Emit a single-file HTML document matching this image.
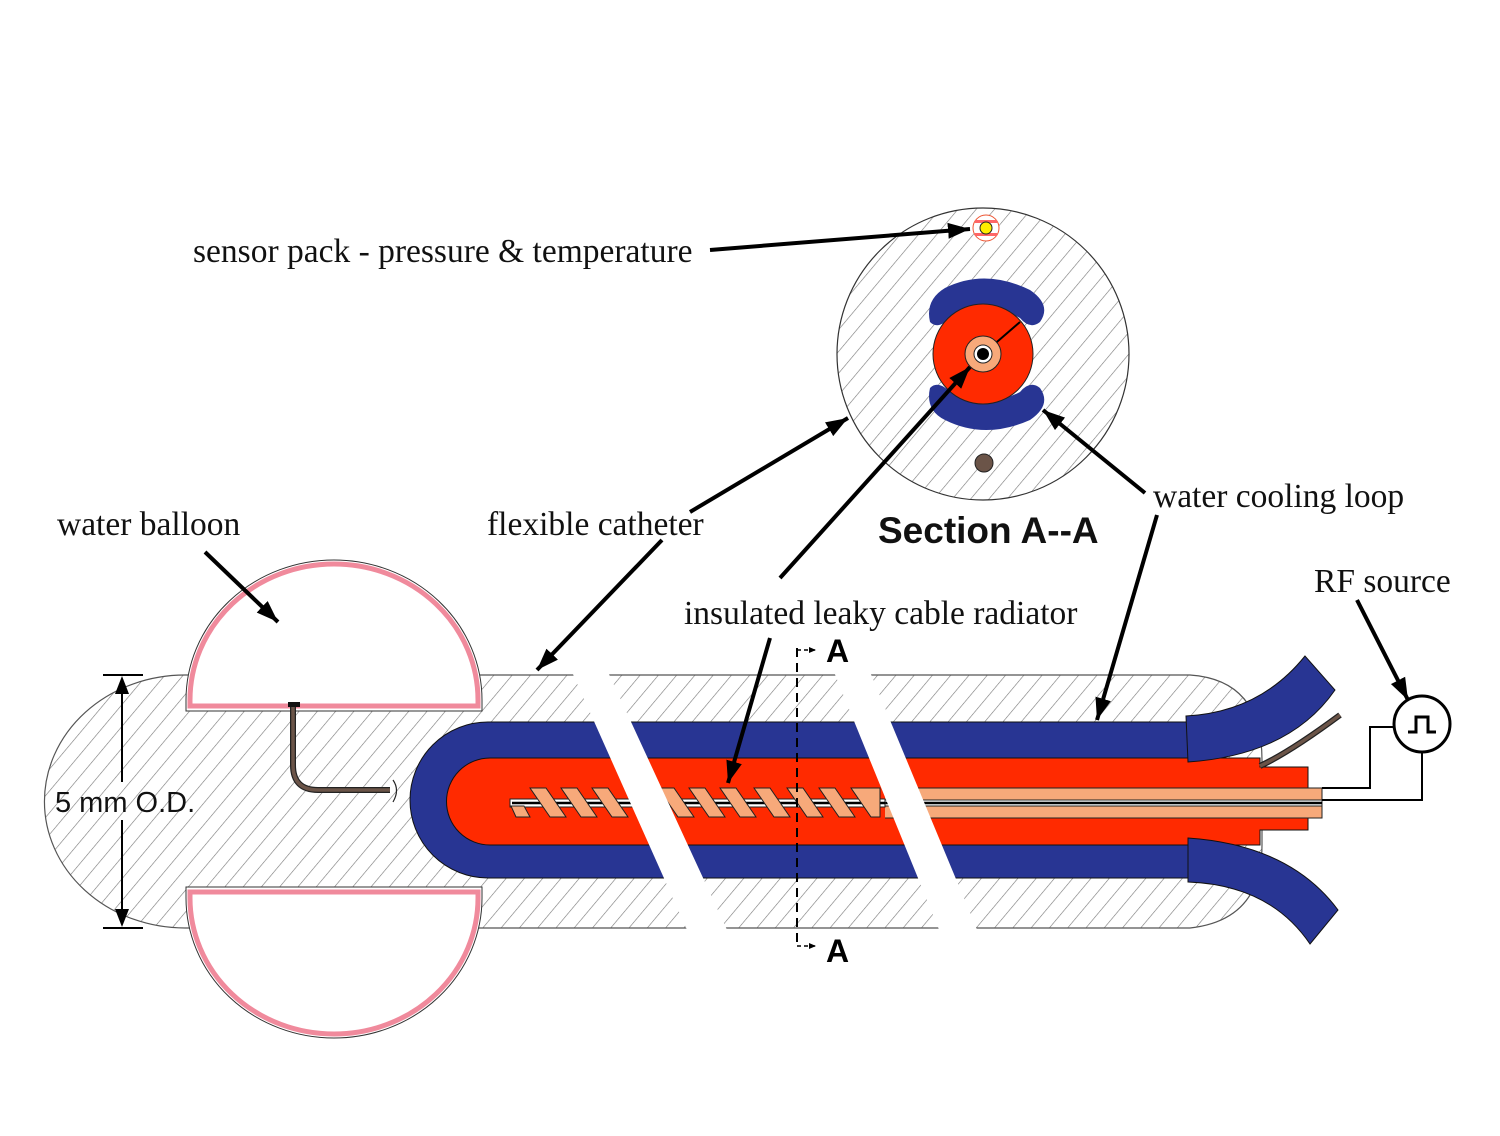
<!DOCTYPE html>
<html><head><meta charset="utf-8"><style>
html,body{margin:0;padding:0;background:#fff;}
svg{display:block;}
.lab{font-family:"Liberation Serif",serif;font-size:33.5px;fill:#111;}
</style></head><body>
<svg width="1500" height="1136" viewBox="0 0 1500 1136" xmlns="http://www.w3.org/2000/svg">
<defs>
<pattern id="h" patternUnits="userSpaceOnUse" width="14" height="14" patternTransform="rotate(40)">
<rect width="14" height="14" fill="#fff"/>
<line x1="0" y1="0" x2="0" y2="14" stroke="#777" stroke-width="1.2"/>
</pattern>
<marker id="ar" markerWidth="24" markerHeight="20" refX="22" refY="10" orient="auto" markerUnits="userSpaceOnUse">
<path d="M0,2 L22,10 L0,18 Z" fill="#000"/>
</marker>
<marker id="as" markerWidth="8" markerHeight="8" refX="7" refY="4" orient="auto" markerUnits="userSpaceOnUse">
<path d="M0,1 L7,4 L0,7 Z" fill="#000"/>
</marker>
</defs>

<path d="M185,675 L1190,675 Q1262,680 1262,760 L1262,845 Q1262,920 1190,928 L185,928 A140,126 0 0 1 185,675 Z" fill="url(#h)" stroke="#555" stroke-width="1.2"/>

<path d="M488,722 L1190,722 L1190,878 L488,878 A78,78 0 0 1 488,722 Z" fill="#283593" stroke="#111" stroke-width="1"/>
<path d="M490,758 L1260,758 L1260,767 L1308,767 L1308,830 L1260,830 L1260,845 L490,845 A43,43 0 0 1 490,758 Z" fill="#ff2a00" stroke="#111" stroke-width="1"/>
<path d="M1186,716 Q1260,712 1305,656 L1335,690 Q1290,755 1188,762 Z" fill="#283593" stroke="#111" stroke-width="1"/>
<path d="M1188,838 Q1290,845 1338,910 L1310,944 Q1270,885 1188,882 Z" fill="#283593" stroke="#111" stroke-width="1"/>
<path d="M1260,766 Q1290,752 1340,715" stroke="#222" stroke-width="6" fill="none"/>
<path d="M1260,766 Q1290,752 1340,715" stroke="#6b5448" stroke-width="3.5" fill="none"/>

<rect x="510" y="788" width="812" height="30" fill="#f7a97a" stroke="#222" stroke-width="1"/>
<rect x="510" y="800" width="812" height="6" fill="#fff" stroke="#222" stroke-width="1"/>
<line x1="512" y1="803" x2="1322" y2="803" stroke="#000" stroke-width="2.5"/>
<rect x="505" y="786" width="380" height="34" fill="#ff2a00"/>
<rect x="510" y="799" width="375" height="8" fill="#fff" stroke="#222" stroke-width="1"/>
<line x1="512" y1="803" x2="885" y2="803" stroke="#000" stroke-width="2.5"/>
<g fill="#f7a97a" stroke="#222" stroke-width="1">
<path d="M511,806 L524,806 L530,817 L516,817 Z"/>
<path d="M530,788 L546,788 L566,817 L550,817 Z"/>
<path d="M561,788 L577,788 L597,817 L581,817 Z"/>
<path d="M592,788 L608,788 L628,817 L612,817 Z"/>
<path d="M658,788 L674,788 L694,817 L678,817 Z"/>
<path d="M689,788 L705,788 L725,817 L709,817 Z"/>
<path d="M720,788 L736,788 L756,817 L740,817 Z"/>
<path d="M754,788 L770,788 L790,817 L774,817 Z"/>
<path d="M787,788 L803,788 L823,817 L807,817 Z"/>
<path d="M819,788 L835,788 L855,817 L839,817 Z"/>
<path d="M851,788 L880,788 L880,817 L871,817 Z"/>
</g>

<path d="M572,672 L608,672 L728,932 L688,932 Z" fill="#fff"/>
<path d="M834,672 L870,672 L978,932 L940,932 Z" fill="#fff"/>

<path d="M186,711 L186,700 A148,140 0 0 1 482,700 L482,711 Z" fill="#fff" stroke="#333" stroke-width="1"/>
<path d="M190,706 L190,700 A144,136 0 0 1 478,700 L478,706 Z" fill="none" stroke="#f08a9c" stroke-width="5"/>
<path d="M186,887 L186,898 A148,140 0 0 0 482,898 L482,887 Z" fill="#fff" stroke="#333" stroke-width="1"/>
<path d="M190,892 L190,898 A144,136 0 0 0 478,898 L478,892 Z" fill="none" stroke="#f08a9c" stroke-width="5"/>

<path d="M293,705 L293,765 Q293,790 318,790 L390,790" stroke="#222" stroke-width="6" fill="none"/>
<path d="M293,705 L293,765 Q293,790 318,790 L390,790" stroke="#6b5448" stroke-width="3.5" fill="none"/>
<rect x="288" y="702" width="12" height="5" fill="#111"/>
<path d="M393,780 Q400,790 393,802" stroke="#222" stroke-width="1.2" fill="none"/>

<line x1="103" y1="675" x2="143" y2="675" stroke="#000" stroke-width="2"/>
<line x1="103" y1="928" x2="143" y2="928" stroke="#000" stroke-width="2"/>
<line x1="122" y1="690" x2="122" y2="782" stroke="#000" stroke-width="2"/>
<line x1="122" y1="820" x2="122" y2="914" stroke="#000" stroke-width="2"/>
<path d="M122,676 L115,694 L129,694 Z"/>
<path d="M122,927 L115,909 L129,909 Z"/>
<text x="55" y="812" font-family="Liberation Sans, sans-serif" font-size="29" fill="#111">5 mm O.D.</text>

<line x1="797" y1="648" x2="797" y2="948" stroke="#000" stroke-width="2" stroke-dasharray="9,6"/>
<line x1="797" y1="650" x2="816" y2="650" stroke="#000" stroke-width="1.5" stroke-dasharray="4,3" marker-end="url(#as)"/>
<line x1="797" y1="946" x2="816" y2="946" stroke="#000" stroke-width="1.5" stroke-dasharray="4,3" marker-end="url(#as)"/>
<text x="826" y="662" font-family="Liberation Sans, sans-serif" font-weight="bold" font-size="32">A</text>
<text x="826" y="962" font-family="Liberation Sans, sans-serif" font-weight="bold" font-size="32">A</text>

<circle cx="1422" cy="724" r="28" fill="#fff" stroke="#000" stroke-width="3"/>
<path d="M1408,732 L1416,732 L1416,717 L1428,717 L1428,732 L1436,732" fill="none" stroke="#000" stroke-width="3"/>
<path d="M1322,788 L1370,788 L1370,727 L1394,727" fill="none" stroke="#000" stroke-width="2"/>
<path d="M1322,800 L1422,800 L1422,752" fill="none" stroke="#000" stroke-width="2"/>

<circle cx="983" cy="354" r="146" fill="url(#h)" stroke="#333" stroke-width="1.2"/>
<path d="M930,322 Q925,300 945,288 Q985,268 1030,290 Q1052,305 1040,322 Q1030,330 1020,318 Q985,300 950,318 Q938,330 930,322 Z" fill="#283593"/>
<path d="M930,388 Q925,410 945,420 Q985,440 1030,420 Q1052,405 1040,388 Q1030,380 1020,392 Q985,410 950,392 Q938,380 930,388 Z" fill="#283593"/>
<circle cx="983" cy="354" r="50" fill="#ff2a00" stroke="#222" stroke-width="1"/>
<line x1="983" y1="354" x2="1020" y2="322" stroke="#000" stroke-width="2"/>
<circle cx="983" cy="354" r="18" fill="#f7a97a" stroke="#222" stroke-width="1"/>
<circle cx="983" cy="354" r="9" fill="#fff" stroke="#222" stroke-width="1"/>
<circle cx="983" cy="354" r="6" fill="#000"/>
<circle cx="984" cy="463" r="9" fill="#6b5448" stroke="#222" stroke-width="1"/>
<circle cx="986" cy="228" r="13" fill="#fff" stroke="#e53" stroke-width="1"/>
<rect x="975" y="220" width="22" height="3" fill="#f66"/>
<rect x="975" y="233" width="22" height="3" fill="#f66"/>
<circle cx="986" cy="228" r="6" fill="#ffee00" stroke="#222" stroke-width="1"/>
<text x="878" y="543" font-family="Liberation Sans, sans-serif" font-weight="bold" font-size="37" fill="#111">Section A--A</text>

<text class="lab" x="193" y="262">sensor pack - pressure &amp; temperature</text>
<text class="lab" x="57" y="535">water balloon</text>
<text class="lab" x="487" y="535">flexible catheter</text>
<text class="lab" x="1153" y="507">water cooling loop</text>
<text class="lab" x="1314" y="592">RF source</text>
<text class="lab" x="684" y="624">insulated leaky cable radiator</text>

<g stroke="#000" stroke-width="4" fill="none" marker-end="url(#ar)">
<line x1="710" y1="250" x2="970" y2="229"/>
<line x1="205" y1="552" x2="278" y2="622"/>
<line x1="690" y1="512" x2="848" y2="418"/>
<line x1="662" y1="540" x2="537" y2="670"/>
<line x1="780" y1="578" x2="970" y2="367"/>
<line x1="770" y1="638" x2="728" y2="783"/>
<line x1="1145" y1="493" x2="1043" y2="410"/>
<line x1="1157" y1="515" x2="1097" y2="720"/>
<line x1="1357" y1="600" x2="1408" y2="700"/>
</g>
</svg>
</body></html>
